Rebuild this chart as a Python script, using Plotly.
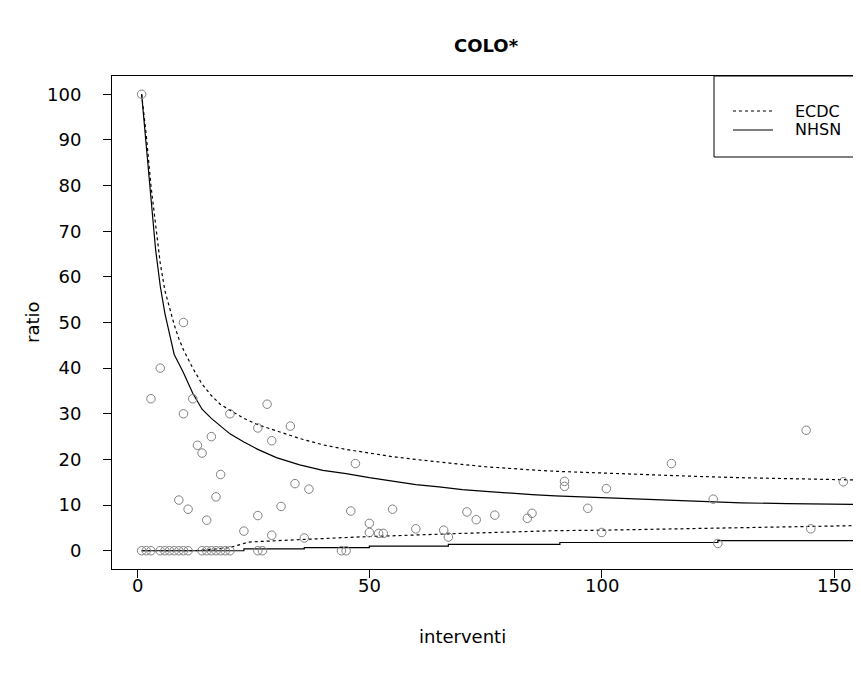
import plotly.graph_objects as go

# ---- data ----
interventi = [1, 2, 3, 5, 6, 7, 8, 9, 10, 11, 14, 15, 16, 17, 18, 19, 20, 26, 27, 44, 45,
              1, 3, 5, 10, 10, 12, 20, 28, 26, 33, 29, 16, 13, 14, 18, 34, 37, 9, 17, 11,
              15, 31, 26, 23, 29, 36, 47, 46, 55, 50, 50, 52, 53, 60, 66, 67, 71, 73, 77,
              84, 85, 92, 92, 97, 100, 101, 115, 124, 125, 144, 145, 152]
ratio = [0, 0, 0, 0, 0, 0, 0, 0, 0, 0, 0, 0, 0, 0, 0, 0, 0, 0, 0, 0, 0,
         100, 33.3, 40, 50, 30, 33.3, 30, 32.1, 26.9, 27.3, 24.1, 25, 23.1, 21.4, 16.7, 14.7, 13.5, 11.1, 11.8, 9.1,
         6.7, 9.7, 7.7, 4.3, 3.4, 2.8, 19.1, 8.7, 9.1, 6, 4, 3.8, 3.8, 4.8, 4.5, 3.0, 8.5, 6.8, 7.8,
         7.1, 8.2, 15.2, 14.1, 9.3, 4, 13.6, 19.1, 11.3, 1.6, 26.4, 4.8, 15.1]

upper_x = [1, 2, 3, 4, 5, 6, 7, 8, 9, 10, 12, 14, 16, 18, 20, 23, 26, 30, 35, 40, 45, 50,
           55, 60, 65, 70, 75, 80, 85, 90, 95, 100, 110, 120, 130, 140, 150, 160]
ecdc_upper = [100, 91, 80, 71, 63, 57, 53, 49.5, 46.5, 44, 40, 36.5, 34, 32, 30.8, 29, 27.6, 26.2,
              24.6, 23.2, 22.2, 21.4, 20.6, 20, 19.4, 18.9, 18.4, 18.0, 17.7, 17.4, 17.2, 17.0,
              16.7, 16.3, 16.0, 15.8, 15.6, 15.4]
nhsn_upper = [100, 89, 77, 66, 58, 52, 47.5, 43, 41, 39, 34.5, 31, 29, 27.3, 25.6, 23.8, 22.2, 20.4,
              18.8, 17.6, 16.9, 16.0, 15.2, 14.5, 14.0, 13.4, 13.0, 12.6, 12.3, 12.0, 11.8, 11.6,
              11.2, 10.8, 10.5, 10.3, 10.2, 10.1]

ecdc_lower_x = [1, 12, 15, 18, 20, 22, 24, 30, 37, 45, 50, 60, 70, 80, 90, 100, 117, 130, 145, 160]
ecdc_lower = [0, 0, 0.2, 0.4, 0.7, 1.3, 1.9, 2.2, 2.6, 2.9, 3.1, 3.5, 3.8, 4.1, 4.4, 4.5, 4.8, 5.1, 5.4, 5.6]

nhsn_lower_x = [1, 23, 36, 50, 67, 91, 125, 160]
nhsn_lower = [0, 0.4, 0.7, 1.0, 1.4, 1.8, 2.2, 2.2]

x_ticks = [0, 50, 100, 150]
x_tick_labels = ["0", "50", "100", "150"]
y_ticks = [0, 10, 20, 30, 40, 50, 60, 70, 80, 90, 100]

FONT = "DejaVu Sans"
WIN_W, WIN_H = 861, 674
OFF = 8                      # page body margin
W, H = WIN_W - OFF, 640      # keep the page inside the window (no scrollbars)
BOX_L, BOX_T, BOX_B = 112, 76, 569   # plot box in window pixels
L = BOX_L - OFF
T = BOX_T - OFF
B = H - (BOX_B - OFF)
R = 0
PW, PH = W - L - R, H - T - B


def px(xw):
    return (xw - BOX_L) / PW


def py(yw):
    return (BOX_B - yw) / PH


fig = go.Figure()

line_style = dict(color="black", width=1.2)
fig.add_trace(go.Scatter(x=upper_x, y=ecdc_upper, mode="lines",
                         line=dict(**line_style, dash="3px,3px"), showlegend=False))
fig.add_trace(go.Scatter(x=ecdc_lower_x, y=ecdc_lower, mode="lines",
                         line=dict(**line_style, dash="3px,3px"), showlegend=False))
fig.add_trace(go.Scatter(x=upper_x, y=nhsn_upper, mode="lines",
                         line=line_style, showlegend=False))
fig.add_trace(go.Scatter(x=nhsn_lower_x, y=nhsn_lower, mode="lines", line_shape="hv",
                         line=line_style, showlegend=False))
fig.add_trace(go.Scatter(x=interventi, y=ratio, mode="markers",
                         marker=dict(symbol="circle-open", size=8.5, color="#808080",
                                     line=dict(width=1, color="#808080")),
                         showlegend=False))

axis_common = dict(showgrid=False, zeroline=False, showline=True, linecolor="black",
                   linewidth=1, ticks="outside", ticklen=8, tickwidth=1, tickcolor="black",
                   tickfont=dict(family=FONT, size=18, color="black"))

px_per_unit = 4.647
x_left = -5.38
fig.update_xaxes(range=[x_left, x_left + PW / px_per_unit], tickvals=x_ticks, mirror=True,
                 showticklabels=False, **axis_common)
fig.update_yaxes(range=[-4, 104], tickvals=y_ticks, mirror=False, ticklabelstandoff=18,
                 **axis_common)

shapes = [
    # legend box (extends beyond right edge like the reference)
    dict(type="rect", xref="paper", yref="paper", x0=px(714), x1=px(980), y0=py(157), y1=py(76),
         line=dict(color="black", width=1), fillcolor="white", layer="above"),
    dict(type="line", xref="paper", yref="paper", x0=px(733), x1=px(773), y0=py(111), y1=py(111),
         line=dict(color="black", width=1.2, dash="3px,3px")),
    dict(type="line", xref="paper", yref="paper", x0=px(733), x1=px(773), y0=py(130), y1=py(130),
         line=dict(color="black", width=1.2)),
]

annotations = [
    dict(text="<b>COLO*</b>", xref="paper", yref="paper", x=px(486), y=py(45),
         xanchor="center", yanchor="middle",
         showarrow=False, font=dict(family=FONT, size=18, color="black")),
    dict(text="interventi", xref="paper", yref="paper", x=px(462), y=py(636),
         xanchor="center", yanchor="middle",
         showarrow=False, font=dict(family=FONT, size=18, color="black")),
    dict(text="ratio", xref="paper", yref="paper", x=px(32), y=py(322), textangle=-90,
         xanchor="center", yanchor="middle",
         showarrow=False, font=dict(family=FONT, size=18, color="black")),
    dict(text="ECDC", xref="paper", yref="paper", x=px(793), y=py(111), xanchor="left",
         yanchor="middle",
         showarrow=False, font=dict(family=FONT, size=16, color="black")),
    dict(text="NHSN", xref="paper", yref="paper", x=px(793), y=py(130), xanchor="left",
         yanchor="middle",
         showarrow=False, font=dict(family=FONT, size=16, color="black")),
]

# x tick labels placed just under the ticks, as in the reference
for v, lab in zip(x_ticks, x_tick_labels):
    annotations.append(dict(text=lab, xref="x", yref="paper", x=v, y=py(585),
                            xanchor="center", yanchor="middle", showarrow=False,
                            font=dict(family=FONT, size=18, color="black")))

fig.update_layout(width=W, height=H, margin=dict(l=L, r=R, t=T, b=B, pad=0),
                  paper_bgcolor="white", plot_bgcolor="white",
                  shapes=shapes, annotations=annotations, showlegend=False)

fig.write_html("out.html")
